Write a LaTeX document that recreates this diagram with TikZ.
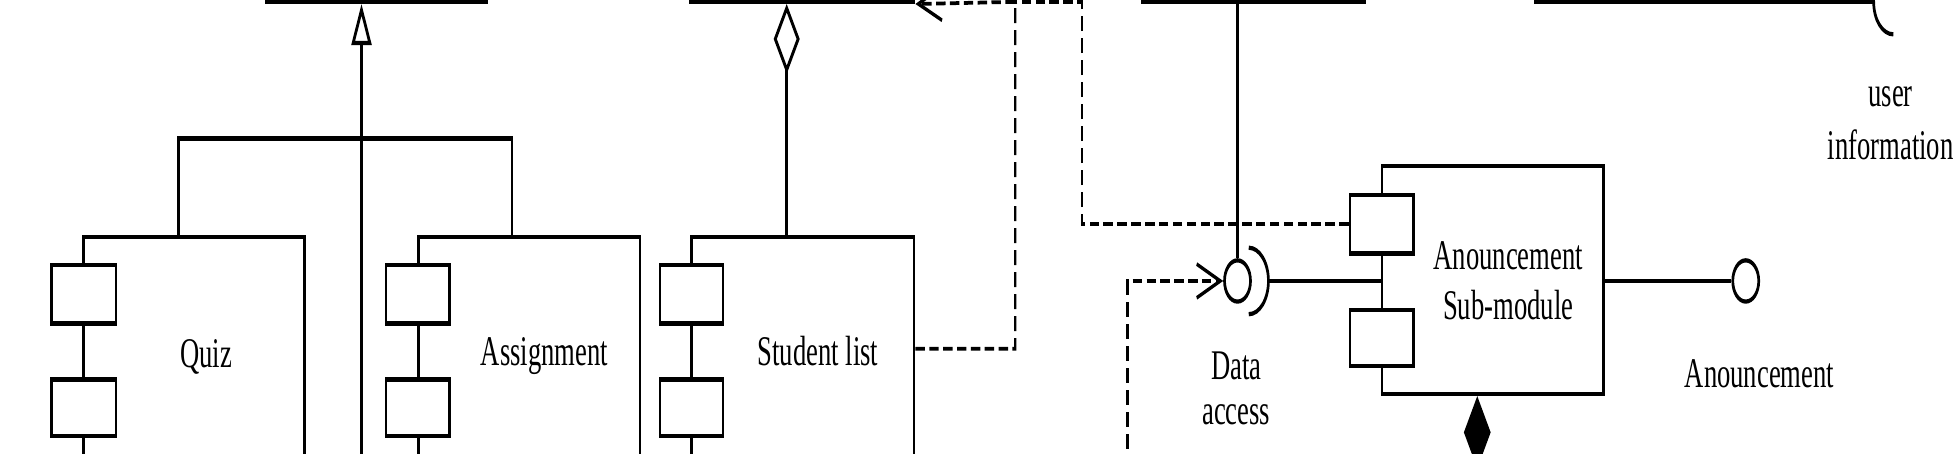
\documentclass[tikz,border=0pt]{standalone}
\usepackage{fontspec}
\setmainfont{Liberation Serif}
\usetikzlibrary{arrows.meta,fit}
\begin{document}
\begin{tikzpicture}[
  line width=1.7pt,
  comp/.style={draw, inner sep=0pt, line width=1.7pt},
  portbox/.style={draw, fill=white, inner sep=0pt, line width=1.7pt},
  lbl/.style={inner sep=0pt, anchor=base, font=\fontsize{16.9}{20}\selectfont},
  dep/.style={line width=1.5pt, dash pattern=on 6pt off 2.8pt},
  ball/.style={draw, circle, minimum size=16.5pt, inner sep=0pt, fill=white, line width=1.7pt},
  gen/.style={-{Triangle[open,length=16.5pt,width=12.7pt]}},
  agg/.style={-{Diamond[open,length=28pt,width=16.5pt]}},
  compo/.style={-{Diamond[length=29pt,width=17pt]}},
  barb/.style={-{Straight Barb[length=15pt,width=13.5pt]}}
]
\useasboundingbox (0,0) rectangle (783.2pt,-181.6pt);
\clip (0,0) rectangle (783.2pt,-181.6pt);
\begin{scope}[transform canvas={xscale=0.63}, x=0.79284pt, y=-0.49949pt]
% parent components (bottom edges at top of picture)
\node[comp, fit={(213,-60) (390,1.5)}] (p1) {};
\node[comp, fit={(553,-60) (732,1.5)}] (p2) {};
\node[comp, fit={(915,-60) (1093,1.5)}] (p3) {};
\coordinate (p4) at (1228.5,1.5);

% Quiz
\node[comp, fit={(67,189.5) (244,430)}] (quiz) {};
\node[portbox, fit={(41,212) (93,259)}] (quizp1) {};
\node[portbox, fit={(41,304) (93,349)}] (quizp2) {};
\node[lbl] (quizt) at (165,294) {Quiz};

% Assignment
\node[comp, fit={(335,189.5) (512.5,430)}] (asg) {};
\node[portbox, fit={(309,212) (360,259)}] (asgp1) {};
\node[portbox, fit={(309,304) (360,349)}] (asgp2) {};
\node[lbl] (asgt) at (436,293) {Assignment};

% Student list
\node[comp, fit={(554,189.5) (732,430)}] (stu) {};
\node[portbox, fit={(528.5,212) (579,259)}] (stup1) {};
\node[portbox, fit={(528.5,304) (579,349)}] (stup2) {};
\node[lbl] (stut) at (655,293) {Student list};

% Anouncement Sub-module
\node[comp, fit={(1106.6,132.7) (1284,315.5)}] (ann) {};
\node[portbox, fit={(1081,156) (1132,203)}] (annp1) {};
\node[portbox, fit={(1081,248) (1132,293)}] (annp2) {};
\node[lbl] (annt) at (1207.8,216) {\begin{tabular}[t]{@{}c@{}}Anouncement\\Sub-module\end{tabular}};

% generalization
\coordinate (gb) at (289.5,430);
\draw[gen] (gb) -- (gb |- p1.south);
\coordinate (jl) at (143,111);
\coordinate (jr) at (410,111);
\draw (quiz.north -| jl) -- (jl) -- (jr) -- (asg.north -| jr);

% aggregation
\coordinate (sd) at (630,0);
\draw[agg] (stu.north -| sd) -- (p2.south -| sd);

% dependencies
\coordinate (j1) at (813,1.5);
\coordinate (j2) at (866.5,1.5);
\draw[dep, barb] ([yshift=-45.7pt]stu.north east) -| (j1) -- (p2.south east);
\draw[dep] (annp1.west) -| (j2) -- (j1);

% Data access interface
\node[ball] (dab) at (991,225) {};
\draw (dab |- p3.south) -- (dab.north);
\coordinate (d3s) at (903,430);
\draw[dep, barb] (d3s) |- (dab.west);
\coordinate (sk) at (1000,225);
\draw ([yshift=13.3pt]sk) arc[start angle=90, end angle=-90, x radius=12.5pt, y radius=13.3pt];
\draw ([xshift=12.5pt]sk) -- (ann.west |- sk);
\node[lbl, font=\fontsize{16.9}{18}\selectfont] (dat) at (990,304.3) {\begin{tabular}[t]{@{}c@{}}Data\\access\end{tabular}};

% Anouncement interface
\node[ball] (annb) at (1398,225) {};
\draw (ann.east |- annb) -- (annb.west);
\node[lbl] (annl) at (1409,310) {Anouncement};

% composition
\coordinate (dm) at (1183,430);
\draw[compo] (dm) -- (dm |- ann.south);

% user information socket
\coordinate (us) at (1516.2,1.5);
\draw (p4) -- ([xshift=-12.5pt]us) arc[start angle=180, end angle=270, x radius=12.5pt, y radius=13pt];
\node[lbl, font=\fontsize{16.9}{21}\selectfont] (uil) at (1514,85.4) {\begin{tabular}[t]{@{}c@{}}user\\information\end{tabular}};
\end{scope}
\end{tikzpicture}
\end{document}
